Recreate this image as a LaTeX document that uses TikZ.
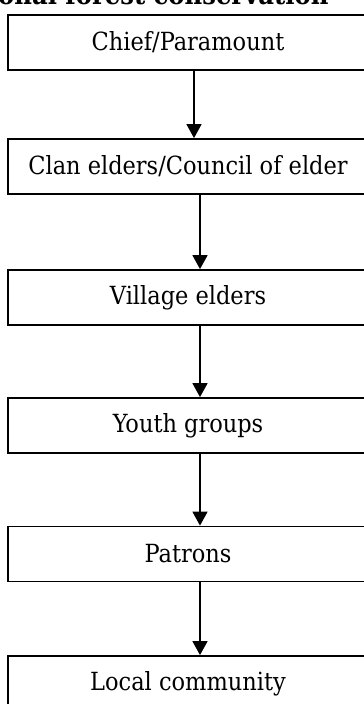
\documentclass[tikz,border=0pt]{standalone}
\usepackage{fontspec}
\setmainfont{DejaVu Serif Condensed}
\usetikzlibrary{arrows.meta}
\tikzset{
	stagebox/.style={draw, line width=1.8pt, minimum width=360pt, minimum height=55pt, inner sep=0pt, font=\fontsize{25}{28}\selectfont},
	flow/.style={line width=1.6pt, -{Triangle[width=15pt,length=14pt]}}
}

\begin{document}
\begin{tikzpicture}[x=1pt, y=1pt]
		%%%%% START %%%%%
		\useasboundingbox (0, 0) rectangle (364, -704);
		
		\node[anchor=base east, font=\fontsize{27}{30}\bfseries] (title) at (332, -5) {Traditional forest conservation};
		
		\node[stagebox] (chief) at (188, -42.5) {Chief/Paramount};
		\node[stagebox] (clan) at (188, -166.5) {Clan elders/Council of elder};
		\node[stagebox] (village) at (188, -297.5) {Village elders};
		\node[stagebox] (youth) at (188, -425.5) {Youth groups};
		\node[stagebox] (patrons) at (188, -554) {Patrons};
		\node[stagebox] (local) at (188, -683.5) {Local community};
		
		\draw[flow] ([xshift=6pt]chief.south) -- ([xshift=6pt]clan.north);
		\draw[flow] ([xshift=12pt]clan.south) -- ([xshift=12pt]village.north);
		\draw[flow] ([xshift=12pt]village.south) -- ([xshift=12pt]youth.north);
		\draw[flow] ([xshift=12pt]youth.south) -- ([xshift=12pt]patrons.north);
		\draw[flow] ([xshift=12pt]patrons.south) -- ([xshift=12pt]local.north);
		%%%%% END %%%%%
\end{tikzpicture}
\end{document}
